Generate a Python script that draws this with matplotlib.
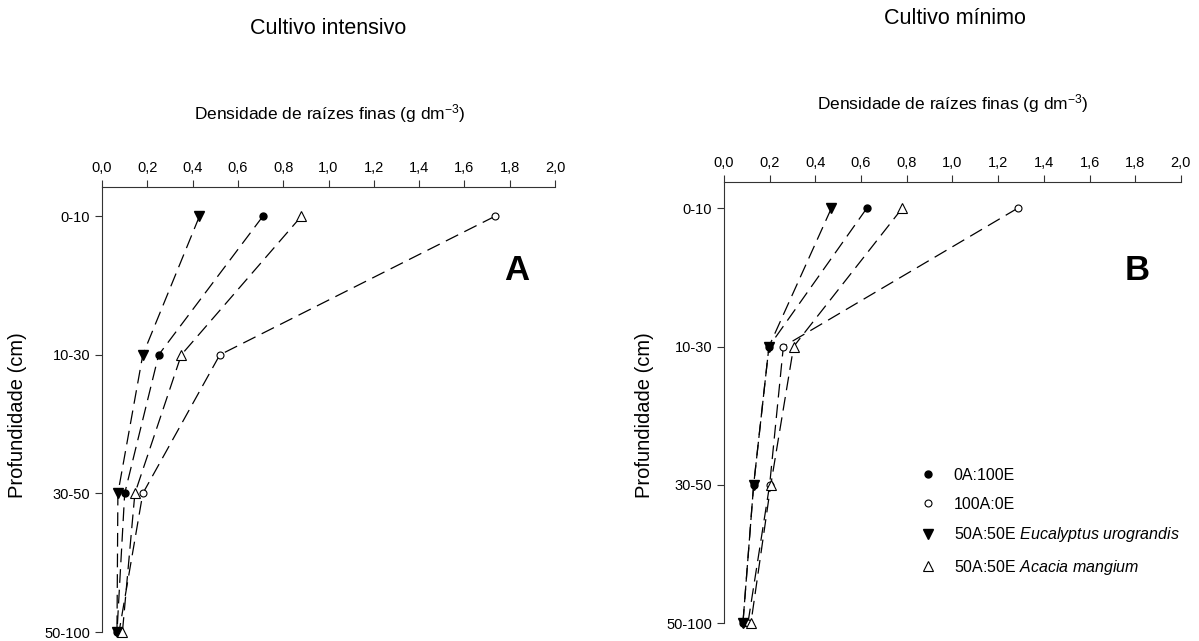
import matplotlib.pyplot as plt

plt.rcParams['font.family'] = ['Liberation Sans', 'DejaVu Sans']
plt.rcParams['mathtext.fontset'] = 'custom'
plt.rcParams['mathtext.rm'] = 'Liberation Sans'
plt.rcParams['mathtext.it'] = 'Liberation Sans:italic'

profundidades = ['0-10', '10-30', '30-50', '50-100']
xticks = [0.0, 0.2, 0.4, 0.6, 0.8, 1.0, 1.2, 1.4, 1.6, 1.8, 2.0]
xtick_labels = ['0,0', '0,2', '0,4', '0,6', '0,8', '1,0', '1,2', '1,4', '1,6', '1,8', '2,0']

# Cultivo intensivo (A)
a_0A100E = [0.71, 0.25, 0.10, 0.066]
a_100A0E = [1.735, 0.52, 0.18, 0.075]
a_euc = [0.43, 0.18, 0.07, 0.066]
a_acacia = [0.88, 0.35, 0.145, 0.09]

# Cultivo minimo (B)
b_0A100E = [0.625, 0.197, 0.13, 0.083]
b_100A0E = [1.285, 0.26, 0.20, 0.105]
b_euc = [0.47, 0.197, 0.13, 0.083]
b_acacia = [0.78, 0.305, 0.205, 0.118]

nomes_series = ['0A:100E', '100A:0E',
                '50A:50E $\\it{Eucalyptus\\ urograndis}$',
                '50A:50E $\\it{Acacia\\ mangium}$']

W, H = 1199, 641
fig = plt.figure(figsize=(W / 100, H / 100), dpi=100)
axA = fig.add_axes([0.0851, 0.014, 0.3778, 0.694])
axB = fig.add_axes([0.6038, 0.028, 0.3811, 0.688])

estilos = [dict(marker='o', ms=5, mfc='black', mec='black'),
           dict(marker='o', ms=5, mfc='white', mec='black', mew=0.8),
           dict(marker='v', ms=7, mfc='black', mec='black'),
           dict(marker='^', ms=7, mfc='white', mec='black', mew=0.8)]

y = list(range(len(profundidades)))


def px(x, yy):
    return x / W, 1 - yy / H


def painel(ax, series, topo):
    for serie, est, nome in zip(series, estilos, nomes_series):
        ax.plot(serie, y, color='black', lw=0.9, dashes=(11, 5.5),
                clip_on=False, label=nome, **est)
    ax.set_xlim(0, 2.0)
    ax.set_ylim(3, topo)
    ax.xaxis.tick_top()
    ax.set_xticks(xticks)
    ax.set_xticklabels(xtick_labels)
    ax.set_yticks(y)
    ax.set_yticklabels(profundidades)
    ax.tick_params(axis='both', labelsize=10.5, length=5, width=0.8,
                   colors='#333333', labelcolor='black', direction='out')
    ax.spines['right'].set_visible(False)
    ax.spines['bottom'].set_visible(False)
    for s in ['top', 'left']:
        ax.spines[s].set_color('#333333')
        ax.spines[s].set_linewidth(0.8)


painel(axA, [a_0A100E, a_100A0E, a_euc, a_acacia], -0.21)
painel(axB, [b_0A100E, b_100A0E, b_euc, b_acacia], -0.19)

# titulos e rotulos em posicoes fixas
rotulo_x = 'Densidade de raízes finas (g dm$^{-3}$)'
fig.text(*px(328, 28), 'Cultivo intensivo', fontsize=15.5, ha='center', va='center')
fig.text(*px(955, 18), 'Cultivo mínimo', fontsize=15.5, ha='center', va='center')
fig.text(*px(330, 114), rotulo_x, fontsize=12.5, ha='center', va='center')
fig.text(*px(953, 104), rotulo_x, fontsize=12.5, ha='center', va='center')
fig.text(*px(18, 415), 'Profundidade (cm)', fontsize=14.5, rotation=90,
         ha='center', va='center')
fig.text(*px(645, 415), 'Profundidade (cm)', fontsize=14.5, rotation=90,
         ha='center', va='center')
fig.text(*px(517, 270), 'A', fontsize=25, fontweight='bold', ha='center', va='center')
fig.text(*px(1137, 270), 'B', fontsize=25, fontweight='bold', ha='center', va='center')

leg = axB.legend(loc='upper left', bbox_to_anchor=px(912, 460),
                 bbox_transform=fig.transFigure, frameon=False,
                 fontsize=11.5, handlelength=1.0, handletextpad=1.1,
                 labelspacing=0.85, borderpad=0)
for h in leg.legend_handles:
    h.set_linestyle('none')

fig.savefig('out.png', dpi=100)
